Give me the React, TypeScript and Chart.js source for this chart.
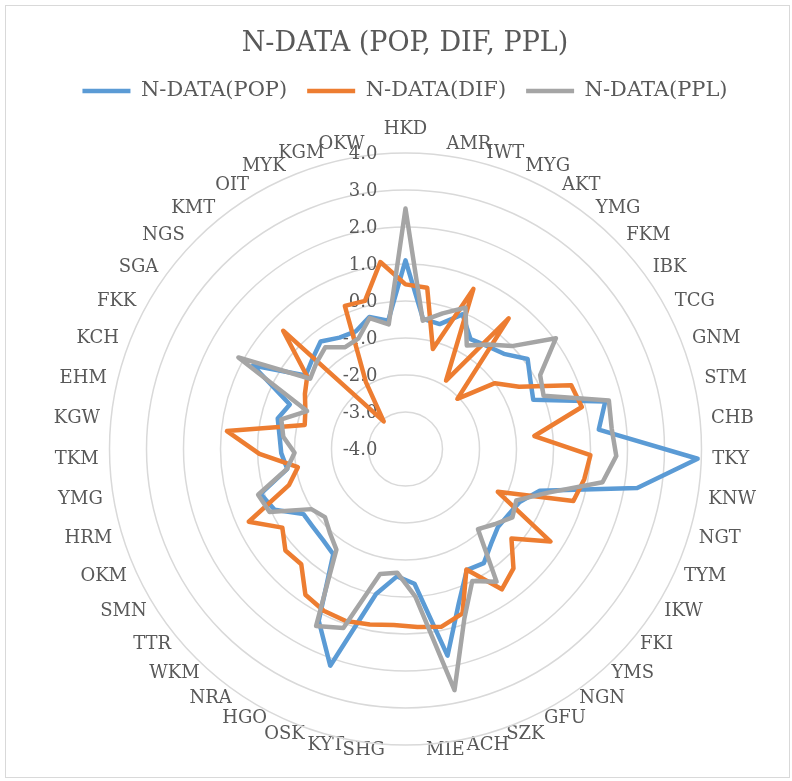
import { useEffect, useRef } from "react";
import { Chart, registerables } from "chart.js";

Chart.register(...registerables);

// Prefecture codes, clockwise from the top of the radar
const categories = [
  "HKD", "AMR", "IWT", "MYG", "AKT", "YMG", "FKM", "IBK", "TCG", "GNM",
  "STM", "CHB", "TKY", "KNW", "NGT", "TYM", "IKW", "FKI", "YMS", "NGN",
  "GFU", "SZK", "ACH", "MIE", "SHG", "KYT", "OSK", "HGO", "NRA", "WKM",
  "TTR", "SMN", "OKM", "HRM", "YMG", "TKM", "KGW", "EHM", "KCH", "FKK",
  "SGA", "NGS", "KMT", "OIT", "MYK", "KGM", "OKW",
];

const popValues = [
  1.1, -0.45, -0.5, -0.05, -0.55, -0.45, -0.3, 0.1, -0.15, -0.3,
  1.55, 1.25, 3.9, 2.35, -0.2, -0.6, -0.7, -0.73, -0.55, -0.26,
  -0.33, 0.4, 1.7, -0.35, -0.55, 0.0, 2.2, 1.2, -0.55, -0.68,
  -0.73, -0.73, -0.1, 0.1, -0.76, -0.64, -0.58, -0.45, -0.65, 0.7,
  -0.65, -0.5, -0.3, -0.5, -0.55, -0.3, -0.5,
];

const difValues = [
  0.45, 0.4, -1.2, 0.7, -1.85, 0.5, -2.05, -1.0, -0.5, 0.8,
  0.9, -0.5, 1.0, 0.9, 0.75, -1.25, 0.65, -0.25, 0.35, 0.6,
  -0.35, 0.7, 0.9, 0.82, 0.77, 0.84, 0.92, 0.9, 0.78, 0.2,
  0.25, -0.05, 0.67, -0.7, -1.05, -0.05, 0.85, -1.2, -1.1, -0.9,
  -0.7, 0.6, -3.05, -1.9, 0.2, 0.15, 1.1,
];

const pplValues = [
  2.5, -0.5, -0.2, 0.15, -0.75, -0.4, 0.0, 1.05, 0.15, 0.0,
  1.65, 1.6, 1.7, 1.4, 0.0, -0.7, -0.57, -0.85, -1.08, 0.35,
  0.0, 0.85, 2.65, 0.0, -0.65, -0.55, 1.12, 1.36, -0.7, -0.95,
  -1.15, -0.98, 0.05, 0.17, -0.75, -1.0, -0.68, -0.55, -1.15, 1.15,
  -0.8, -0.65, -0.5, -0.8, -0.75, -0.33, -0.6,
];

const seriesNames = ["N-DATA(POP)", "N-DATA(DIF)", "N-DATA(PPL)"];
const seriesColors = ["#5B9BD5", "#ED7D31", "#A5A5A5"];

const axisMin = -4;
const axisMax = 4;
const axisStep = 1;

// Page layout of the radar plot
const CANVAS_W = 792;
const CANVAS_H = 781;
const PLOT = { cx: 405.5, cy: 449, radius: 296, labelGap: 11 };
const TEXT = "#595959";
const SERIF = '"DejaVu Serif", serif';

// Put the radar at a fixed centre / radius and lay the category labels
// just outside the outer ring: side labels centred on their anchor,
// the label straight above the top spoke sitting on it.
function placeRadar(scale: any) {
  scale.xCenter = PLOT.cx;
  scale.yCenter = PLOT.cy;
  scale.drawingArea = PLOT.radius;
  const items = scale._pointLabelItems || [];
  items.forEach((item: any, i: number) => {
    const w = item.right - item.left;
    const h = item.bottom - item.top;
    const a = scale.getIndexAngle(i);
    const c = Math.cos(a);
    const p = scale.getPointPosition(i, PLOT.radius + PLOT.labelGap);
    let left: number;
    if (item.textAlign === "center") left = p.x - w / 2;
    else if (item.textAlign === "left") left = p.x;
    else left = p.x - w;
    let top: number;
    if (item.textAlign === "center" && c > 0) top = p.y - h - 2;
    else top = p.y + 5 * Math.min(c, 0) - h / 2;
    item.left = left;
    item.right = left + w;
    item.top = top;
    item.bottom = top + h;
    item.y = top;
    item.x =
      item.textAlign === "left" ? left : item.textAlign === "right" ? left + w : left + w / 2;
    item.visible = true;
  });
}

// Value-axis labels, right-aligned beside the vertical axis
const valueAxisLabels = {
  id: "valueAxisLabels",
  beforeDatasetsDraw(chart: any) {
    const scale = chart.scales.r;
    const ctx = chart.ctx;
    ctx.save();
    ctx.font = `18px ${SERIF}`;
    ctx.fillStyle = TEXT;
    ctx.textAlign = "right";
    ctx.textBaseline = "middle";
    scale.ticks.forEach((t: any) => {
      const d = scale.getDistanceFromCenterForValue(t.value);
      ctx.fillText(t.label, scale.xCenter - 28, scale.yCenter - d + 1);
    });
    ctx.restore();
  },
};

export default function App() {
  const canvasRef = useRef<HTMLCanvasElement | null>(null);

  useEffect(() => {
    if (!canvasRef.current) return;
    const values = [popValues, difValues, pplValues];
    const chart = new Chart(canvasRef.current, {
      type: "radar",
      data: {
        labels: categories,
        datasets: values.map((v, k) => ({
          label: seriesNames[k],
          data: v,
          borderColor: seriesColors[k],
          backgroundColor: seriesColors[k],
          borderWidth: 4.5,
          borderJoinStyle: "round" as const,
          pointRadius: 0,
          pointHoverRadius: 0,
          fill: false,
          tension: 0,
          // later series are drawn on top
          order: 3 - k,
        })),
      },
      options: {
        responsive: false,
        animation: false,
        devicePixelRatio: 1,
        layout: { padding: { left: 18, right: 0, top: 0, bottom: 0 } },
        plugins: {
          title: {
            display: true,
            text: "N-DATA (POP, DIF, PPL)",
            color: TEXT,
            font: { family: SERIF, size: 27, weight: "normal" },
            padding: { top: 28, bottom: 0 },
          },
          legend: {
            display: true,
            position: "top",
            labels: {
              usePointStyle: true,
              pointStyle: "line",
              pointStyleWidth: 48,
              boxHeight: 21,
              padding: 20,
              color: TEXT,
              font: { family: SERIF, size: 21 },
              sort: (a: any, b: any) => a.datasetIndex - b.datasetIndex,
            },
          },
          tooltip: { enabled: false },
        },
        scales: {
          r: {
            min: axisMin,
            max: axisMax,
            beginAtZero: false,
            afterFit: placeRadar,
            angleLines: { display: false },
            grid: { circular: true, color: "#d9d9d9", lineWidth: 1.5 },
            ticks: {
              display: false,
              stepSize: axisStep,
              callback: (v: any) => Number(v).toFixed(1),
            },
            pointLabels: {
              display: true,
              color: TEXT,
              padding: PLOT.labelGap,
              font: { family: SERIF, size: 18 },
            },
          },
        },
      },
      plugins: [valueAxisLabels],
    });
    return () => chart.destroy();
  }, []);

  return (
    <div style={{ position: "absolute", left: 0, top: 0, width: CANVAS_W, height: CANVAS_H, background: "#ffffff" }}>
      <div
        style={{
          position: "absolute",
          left: 5,
          top: 5,
          width: 783,
          height: 771,
          border: "1px solid #d9d9d9",
        }}
      />
      <canvas
        ref={canvasRef}
        width={CANVAS_W}
        height={CANVAS_H}
        style={{ position: "absolute", left: 0, top: 0, width: CANVAS_W, height: CANVAS_H }}
      />
    </div>
  );
}
